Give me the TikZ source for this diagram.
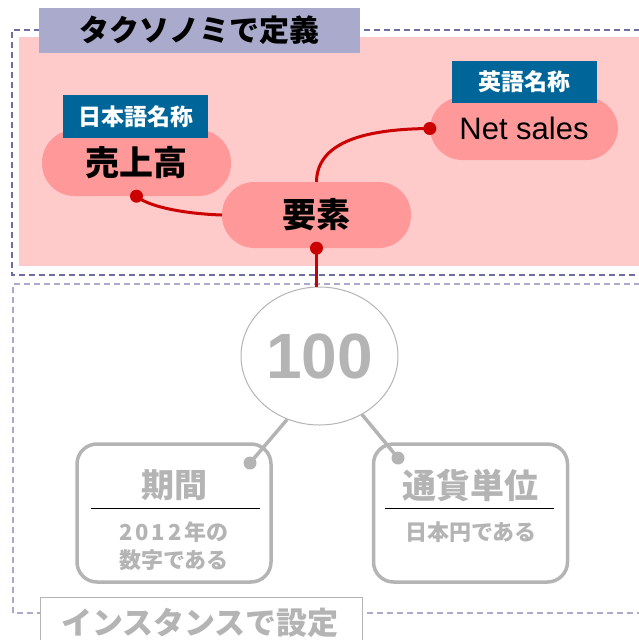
\documentclass[tikz,border=0pt]{standalone}
\usepackage{fontspec}
\newfontfamily\jp{Noto Sans CJK JP}
\newfontfamily\lat{Liberation Sans}
\usetikzlibrary{shapes.geometric}
\definecolor{pinkbg}{HTML}{FFCACA}
\definecolor{nodepink}{HTML}{FF9999}
\definecolor{lblblue}{HTML}{006699}
\definecolor{ttlfill}{HTML}{AAAACC}
\definecolor{rd}{HTML}{CC0000}
\definecolor{gr}{HTML}{B4B4B4}
\definecolor{dashA}{HTML}{6E6EA0}
\definecolor{dashB}{HTML}{AAAACC}
\tikzset{
  stadium/.style={fill=nodepink, rounded corners=32.5pt, minimum height=66pt, minimum width=189pt, inner sep=0pt, font=\jp\bfseries\fontsize{34}{34}\selectfont},
  bluelabel/.style={fill=lblblue, text=white, minimum width=145pt, minimum height=43pt, inner sep=0pt, font=\jp\bfseries\fontsize{23}{23}\selectfont},
  redline/.style={draw=rd, line width=3pt},
  grayline/.style={draw=gr, line width=3.5pt},
  instbox/.style={draw=gr, line width=3.5pt, rounded corners=20pt, fill=white, minimum width=194pt, minimum height=138pt, inner sep=0pt},
  graytext/.style={text=gr, font=\jp\bfseries\fontsize{#1}{#1}\selectfont},
  dashstyle/.style={dash pattern=on 6pt off 4pt, line width=1.2pt}
}
\begin{document}
\begin{tikzpicture}[x=1pt,y=-1pt]
\useasboundingbox (0,0) rectangle (639,640);
% taxonomy region
\fill[pinkbg] (19,37) rectangle (645,266);
\draw[dashstyle, draw=dashA] (650,30) -- (12,30) -- (12,275) -- (650,275);
\node[fill=ttlfill, minimum width=321pt, minimum height=45pt, inner sep=0pt, font=\jp\bfseries\fontsize{30}{30}\selectfont] (ttl) at (199.5,30.5) {タクソノミで定義};
% instance region
\draw[dashstyle, draw=dashB] (650,284) -- (13,284) -- (13,613) -- (650,613);
\node[fill=white, draw=gr, line width=1pt, minimum width=322pt, minimum height=48pt, inner sep=0pt, anchor=north west] (inst) at (39.5,597) {};
\node[graytext=31] (insttxt) at (200,623) {インスタンスで設定};
% taxonomy nodes
\node[stadium] (uri) at (136.5,163) {売上高};
\node[stadium] (yoso) at (316.5,215) {要素};
\node[stadium, minimum width=188pt, minimum height=63pt, font=\lat\fontsize{31}{31}\selectfont] (ns) at (524,128.5) {Net sales};
\node[bluelabel] (jlbl) at (135.5,116.5) {日本語名称};
\node[bluelabel, minimum height=42pt] (elbl) at (524.5,82) {英語名称};
% red connectors
\draw[redline] (uri.south) .. controls (150,208) and (190,214) .. (yoso.west);
\fill[rd] (uri.south) circle (6.5);
\draw[redline] (yoso.north) .. controls (317,140) and (370,129) .. (ns.west);
\fill[rd] (ns.west) circle (6.5);
% value ellipse
\node[ellipse, draw=gr, line width=1pt, fill=white, minimum width=157pt, minimum height=138pt, inner sep=0pt, text=gr, font=\lat\bfseries\fontsize{64}{64}\selectfont] (val) at (319.5,356) {100};
\draw[redline] (yoso.south) -- (yoso.south |- val.north);
\fill[rd] (yoso.south) circle (6.5);
% instance boxes
\node[instbox] (kikan) at (174,513) {};
\node[instbox] (tsuka) at (470.5,513) {};
\node[graytext=33] (kikant) at (174,485) {期間};
\draw[black, line width=1pt] (91,508) -- (260,508);
\node[graytext=22] (k1) at (174,532) {2\kern3pt 0\kern3pt 1\kern3pt 2\kern3pt 年の};
\node[graytext=22] (k2) at (174,560) {数字である};
\node[graytext=34] (tsukat) at (470.5,485) {通貨単位};
\draw[black, line width=1pt] (385,508) -- (554,508);
\node[graytext=22] (t1) at (471,532) {日本円である};
% gray connectors
\coordinate (kd) at (250,463);
\coordinate (td) at (398,458);
\draw[grayline] (val.-117) -- (kd);
\fill[gr] (kd) circle (6.5);
\draw[grayline] (val.-54) -- (td);
\fill[gr] (td) circle (6.5);
\end{tikzpicture}
\end{document}
